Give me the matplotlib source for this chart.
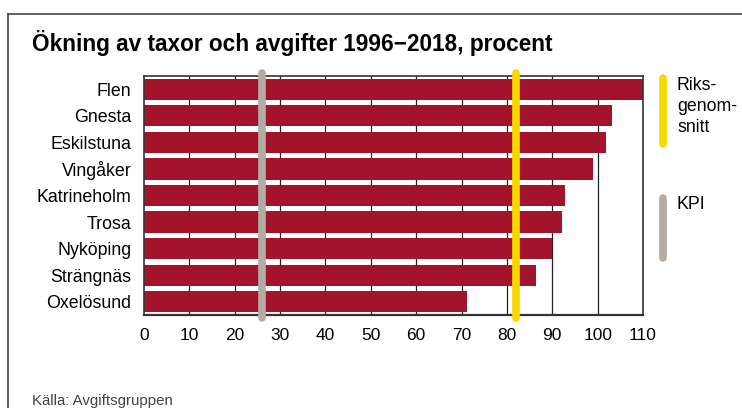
import matplotlib.pyplot as plt
from matplotlib.lines import Line2D

# data
kommuner = ["Flen", "Gnesta", "Eskilstuna", "Vingåker", "Katrineholm",
            "Trosa", "Nyköping", "Strängnäs", "Oxelösund"]
okning = [110, 103.2, 101.8, 98.9, 92.7, 92.1, 89.9, 86.4, 71.2]
kpi = 26
rikssnitt = 82
xticks = [0, 10, 20, 30, 40, 50, 60, 70, 80, 90, 100, 110]

bar_color = "#A3142C"
yellow = "#F7D900"
grey = "#B4ACA3"

plt.rcParams['font.family'] = ['Liberation Sans', 'DejaVu Sans']

fig = plt.figure(figsize=(7.42, 4.08), dpi=100)
ax = fig.add_axes([144/742, 1-315/408, (643-144)/742, (315-76)/408])

y = list(range(len(kommuner)))
ax.barh(y, okning, height=0.8, color=bar_color, zorder=2)
ax.set_ylim(len(kommuner)-0.5, -0.5)
ax.set_xlim(0, 110)
ax.set_yticks(y)
ax.set_yticklabels(kommuner, fontsize=12.8)
ax.set_xticks(xticks)
ax.set_xticklabels([str(t) for t in xticks], fontsize=12.5)
ax.tick_params(length=0)
ax.tick_params(axis='x', pad=9)
ax.tick_params(axis='y', pad=9)

# vertical grid
for t in xticks[1:-1]:
    ax.axvline(t, color="#222222", lw=0.9, zorder=1)
for s in ax.spines.values():
    s.set_color("#333333")
    s.set_linewidth(1.2)
ax.spines['bottom'].set_linewidth(1.6)

# reference lines
for val, col in [(kpi, grey), (rikssnitt, yellow)]:
    ax.plot([val, val], [-0.6, 8.6], color=col, lw=5.5, solid_capstyle='round',
            clip_on=False, zorder=4)

# legend on the right
fig.add_artist(Line2D([663/742, 663/742], [1-78/408, 1-144/408], color=yellow,
                      lw=5.5, solid_capstyle='round'))
fig.add_artist(Line2D([663/742, 663/742], [1-198/408, 1-258/408], color=grey,
                      lw=5.5, solid_capstyle='round'))
fig.text(677/742, 1-77/408, "Riks-\ngenom-\nsnitt", fontsize=12.8, va='top',
         linespacing=1.3)
fig.text(677/742, 1-196/408, "KPI", fontsize=12.8, va='top')

# frame, title and source
fig.add_artist(Line2D([8/742, 1], [1-14/408, 1-14/408], color="#444444", lw=1.2))
fig.add_artist(Line2D([8/742, 8/742], [1-14/408, 0], color="#444444", lw=1.2))
fig.text(32/742, 1-43/408, "Ökning av taxor och avgifter 1996\u22122018, procent",
         fontsize=16.3, fontweight='bold', va='center')
fig.text(32/742, 1-401/408, "Källa: Avgiftsgruppen", fontsize=10.8, va='center',
         color="#444444")

fig.savefig("out.png", dpi=100)
